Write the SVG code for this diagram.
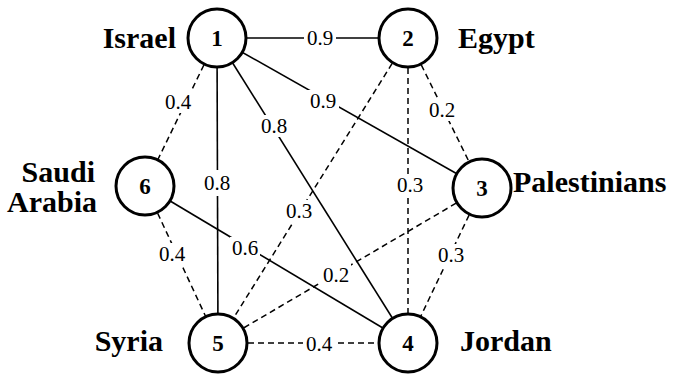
<svg xmlns="http://www.w3.org/2000/svg" width="677" height="377" viewBox="0 0 677 377">
  <style>
    .edge { stroke: #000; stroke-width: 1.6; fill: none; }
    .dash { stroke-dasharray: 6 4; stroke-width: 1.5; }
    .lblbg { fill: #fff; stroke: none; }
    .lbl { font-family: "Liberation Serif", "Times New Roman", serif; font-size: 21px; fill: #000; text-anchor: middle; }
    .node circle { fill: #fff; stroke: #000; stroke-width: 3; }
    .num { font-family: "Liberation Serif", "Times New Roman", serif; font-size: 23px; font-weight: bold; fill: #000; text-anchor: middle; }
    .name { font-family: "Liberation Serif", "Times New Roman", serif; font-size: 30px; font-weight: bold; fill: #000; }
  </style>

  <!-- connectors: weighted edges between the six nodes -->
  <g id="connectors">
    <!-- solid edges -->
    <line class="edge" x1="217" y1="38" x2="408" y2="38"/>
    <line class="edge" x1="217" y1="38" x2="482" y2="188"/>
    <line class="edge" x1="217" y1="38" x2="408" y2="343"/>
    <line class="edge" x1="217" y1="38" x2="218" y2="343"/>
    <line class="edge" x1="145" y1="186" x2="408" y2="343"/>
    <!-- dashed edges -->
    <line class="edge dash" x1="217" y1="38" x2="145" y2="186"/>
    <line class="edge dash" x1="408" y1="38" x2="218" y2="343"/>
    <line class="edge dash" x1="408" y1="38" x2="408" y2="343"/>
    <line class="edge dash" x1="408" y1="38" x2="482" y2="188"/>
    <line class="edge dash" x1="482" y1="188" x2="218" y2="343"/>
    <line class="edge dash" x1="482" y1="188" x2="408" y2="343"/>
    <line class="edge dash" x1="218" y1="343" x2="408" y2="343"/>
    <line class="edge dash" x1="145" y1="186" x2="218" y2="343"/>

    <!-- label backgrounds break the lines around each weight -->
    <g>
      <rect class="lblbg" x="304" y="27" width="32" height="22"/>
      <rect class="lblbg" x="163" y="91" width="30" height="22"/>
      <rect class="lblbg" x="307" y="90" width="32" height="22"/>
      <rect class="lblbg" x="259" y="115" width="30" height="22"/>
      <rect class="lblbg" x="427" y="99" width="30" height="22"/>
      <rect class="lblbg" x="202" y="170" width="30" height="26"/>
      <rect class="lblbg" x="395" y="174" width="30" height="22"/>
      <rect class="lblbg" x="284" y="200" width="30" height="22"/>
      <rect class="lblbg" x="230" y="237" width="30" height="22"/>
      <rect class="lblbg" x="157" y="243" width="30" height="22"/>
      <rect class="lblbg" x="321" y="264" width="30" height="22"/>
      <rect class="lblbg" x="436" y="244" width="30" height="22"/>
      <rect class="lblbg" x="303" y="334" width="32" height="20"/>
    </g>

    <text class="lbl" x="320" y="45">0.9</text>
    <text class="lbl" x="178" y="109">0.4</text>
    <text class="lbl" x="323" y="108">0.9</text>
    <text class="lbl" x="274" y="133">0.8</text>
    <text class="lbl" x="442" y="117">0.2</text>
    <text class="lbl" x="217" y="190">0.8</text>
    <text class="lbl" x="410" y="192">0.3</text>
    <text class="lbl" x="299" y="218">0.3</text>
    <text class="lbl" x="245" y="255">0.6</text>
    <text class="lbl" x="172" y="261">0.4</text>
    <text class="lbl" x="336" y="282">0.2</text>
    <text class="lbl" x="451" y="262">0.3</text>
    <text class="lbl" x="319" y="351">0.4</text>
  </g>

  <!-- nodes -->
  <g id="node-1" class="node">
    <circle cx="217" cy="38" r="29"/>
    <text class="num" x="217" y="46">1</text>
    <text class="name" x="176" y="48" text-anchor="end">Israel</text>
  </g>
  <g id="node-2" class="node">
    <circle cx="408" cy="38" r="29"/>
    <text class="num" x="408" y="46">2</text>
    <text class="name" x="458" y="48">Egypt</text>
  </g>
  <g id="node-3" class="node">
    <circle cx="482" cy="188" r="29"/>
    <text class="num" x="482" y="196">3</text>
    <text class="name" x="513" y="192">Palestinians</text>
  </g>
  <g id="node-4" class="node">
    <circle cx="408" cy="343" r="29"/>
    <text class="num" x="408" y="351">4</text>
    <text class="name" x="460" y="351">Jordan</text>
  </g>
  <g id="node-5" class="node">
    <circle cx="218" cy="343" r="29"/>
    <text class="num" x="218" y="351">5</text>
    <text class="name" x="163" y="351" text-anchor="end">Syria</text>
  </g>
  <g id="node-6" class="node">
    <circle cx="145" cy="186" r="29"/>
    <text class="num" x="145" y="194">6</text>
    <text class="name" x="95" y="182" text-anchor="end">Saudi</text>
    <text class="name" x="97" y="212" text-anchor="end">Arabia</text>
  </g>
</svg>
